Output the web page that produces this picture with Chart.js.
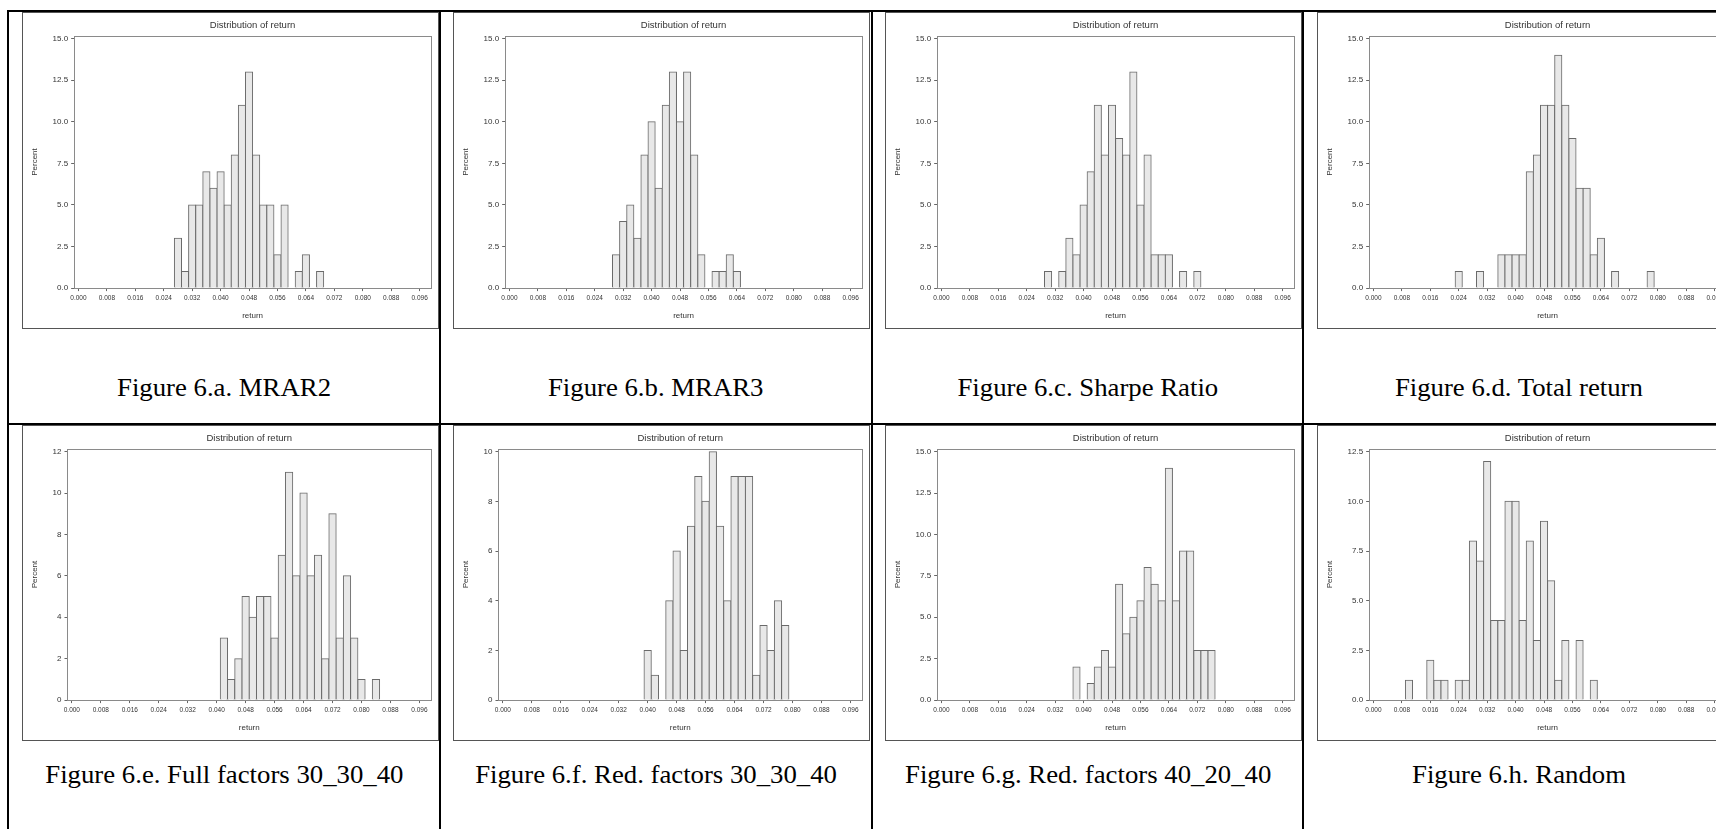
<!DOCTYPE html>
<html>
<head>
<meta charset="utf-8">
<title>Distribution of return</title>
<script src="https://cdn.jsdelivr.net/npm/chart.js@4.4.1/dist/chart.umd.min.js"></script>
<style>
  html, body { margin: 0; padding: 0; background: #fff; }
  body { width: 1716px; height: 829px; position: relative; overflow: hidden; }
  .rule { position: absolute; background: #000; }
  .frame { position: absolute; box-sizing: border-box; border: 1px solid #555; background: #fff; }
  .frame canvas { display: block; }
  .caption {
    position: absolute; width: 430px; height: 30px; line-height: 30px; text-align: center;
    font-family: "Liberation Serif", "Times New Roman", serif; font-size: 25px; color: #000;
  }
  .caption span { display: inline-block; transform: scaleX(1.07); white-space: nowrap; }
</style>
</head>
<body>

<!-- table rules -->
<div class="rule" style="left:7px; top:10px; width:1709px; height:2px"></div>
<div class="rule" style="left:7px; top:423px; width:1709px; height:2px"></div>
<div class="rule" style="left:7px; top:10px; width:2px; height:819px"></div>
<div class="rule" style="left:439px; top:10px; width:2px; height:819px"></div>
<div class="rule" style="left:871px; top:10px; width:2px; height:819px"></div>
<div class="rule" style="left:1302px; top:10px; width:2px; height:819px"></div>

<!-- row 1 -->
<div class="frame" style="left:22px; top:12px; width:417px; height:317px"><canvas id="chart-a" width="415" height="315"></canvas></div>
<div class="frame" style="left:453px; top:12px; width:417px; height:317px"><canvas id="chart-b" width="415" height="315"></canvas></div>
<div class="frame" style="left:885px; top:12px; width:417px; height:317px"><canvas id="chart-c" width="415" height="315"></canvas></div>
<div class="frame" style="left:1317px; top:12px; width:417px; height:317px"><canvas id="chart-d" width="415" height="315"></canvas></div>

<div class="caption" style="left:9px; top:373px"><span>Figure 6.a. MRAR2</span></div>
<div class="caption" style="left:441px; top:373px"><span>Figure 6.b. MRAR3</span></div>
<div class="caption" style="left:873px; top:373px"><span>Figure 6.c. Sharpe Ratio</span></div>
<div class="caption" style="left:1304px; top:373px"><span>Figure 6.d. Total return</span></div>

<!-- row 2 -->
<div class="frame" style="left:22px; top:425px; width:417px; height:316px"><canvas id="chart-e" width="415" height="314"></canvas></div>
<div class="frame" style="left:453px; top:425px; width:417px; height:316px"><canvas id="chart-f" width="415" height="314"></canvas></div>
<div class="frame" style="left:885px; top:425px; width:417px; height:316px"><canvas id="chart-g" width="415" height="314"></canvas></div>
<div class="frame" style="left:1317px; top:425px; width:417px; height:316px"><canvas id="chart-h" width="415" height="314"></canvas></div>

<div class="caption" style="left:9px; top:760px"><span>Figure 6.e. Full factors 30_30_40</span></div>
<div class="caption" style="left:441px; top:760px"><span>Figure 6.f. Red. factors 30_30_40</span></div>
<div class="caption" style="left:873px; top:760px"><span>Figure 6.g. Red. factors 40_20_40</span></div>
<div class="caption" style="left:1304px; top:760px"><span>Figure 6.h. Random</span></div>

<script>
// bin midpoints of return (width 0.002)
const returnBins = [
  0.010, 0.012, 0.014, 0.016, 0.018, 0.020, 0.022, 0.024, 0.026, 0.028,
  0.030, 0.032, 0.034, 0.036, 0.038, 0.040, 0.042, 0.044, 0.046, 0.048,
  0.050, 0.052, 0.054, 0.056, 0.058, 0.060, 0.062, 0.064, 0.066, 0.068,
  0.070, 0.072, 0.074, 0.076, 0.078, 0.080, 0.082, 0.084
];
const returnTicks = [0, 0.008, 0.016, 0.024, 0.032, 0.040, 0.048, 0.056, 0.064, 0.072, 0.080, 0.088, 0.096];

// percent of portfolios in each bin
const pctMRAR2 = [0,0,0,0,0,0,0,0,0, 3,1,5,5,7,6,7,5,8,11,13,8,5,5,2,5,0,1,2,0,1, 0,0,0,0,0,0,0,0];
const pctMRAR3 = [0,0,0,0,0,0,0,0,0,0, 2,4,5,3,8,10,6,11,13,10,13,8,2,0,1,1,2,1, 0,0,0,0,0,0,0,0,0,0];
const pctSharpe = [0,0,0,0,0,0,0,0,0,0, 1,0,1,3,2,5,7,11,8,11,9,8,13,5,8,2,2,2,0,1,0,1, 0,0,0,0,0,0];
const pctTotal = [0,0,0,0,0,0,0, 1,0,0,1,0,0,2,2,2,2,7,8,11,11,14,11,9,6,6,2,3,0,1,0,0,0,0,1, 0,0,0];
const pctFull303040 = [0,0,0,0,0,0,0,0,0,0,0,0,0,0,0,0, 3,1,2,5,4,5,5,3,7,11,6,10,6,7,2,9,3,6,3,1,0,1];
const pctRed303040 = [0,0,0,0,0,0,0,0,0,0,0,0,0,0,0, 2,1,0,4,6,2,7,9,8,10,7,4,9,9,9,1,3,2,4,3, 0,0,0];
const pctRed402040 = [0,0,0,0,0,0,0,0,0,0,0,0,0,0, 2,0,1,2,3,2,7,4,5,6,8,7,6,14,6,9,9,3,3,3, 0,0,0,0];
const pctRandom = [1,0,0,2,1,1,0,1,1,8,7,12,4,4,10,10,4,8,3,9,6,1,3,0,3,0,1, 0,0,0,0,0,0,0,0,0,0,0];

const sasFont = '"Liberation Sans", Arial, sans-serif';
const textColor = '#333';

// grey box round the plot area
const plotFrame = {
  id: 'plotFrame',
  afterDraw(chart) {
    const a = chart.chartArea;
    const ctx = chart.ctx;
    ctx.save();
    ctx.strokeStyle = '#8a8a8a';
    ctx.lineWidth = 1;
    ctx.strokeRect(Math.round(a.left) + 0.5, Math.round(a.top) + 0.5,
      Math.round(a.right - a.left), Math.round(a.bottom - a.top));
    ctx.restore();
  }
};

function histogram(id, counts, yTop, yStep) {
  const points = returnBins.map((r, i) => ({ x: r, y: counts[i] === 0 ? null : counts[i] }));
  return new Chart(document.getElementById(id), {
    type: 'bar',
    data: {
      datasets: [{
        data: points,
        backgroundColor: '#e8e8e8',
        borderColor: '#6a6a6a',
        borderWidth: 1,
        inflateAmount: 0.5,
        barPercentage: 1,
        categoryPercentage: 1
      }]
    },
    options: {
      responsive: false,
      animation: false,
      devicePixelRatio: 1,
      layout: { padding: { left: 5, right: 7, top: 0, bottom: 7 } },
      plugins: {
        legend: { display: false },
        tooltip: { enabled: false },
        title: {
          display: true,
          text: 'Distribution of return',
          fullSize: false,
          color: textColor,
          font: { family: sasFont, size: 9.5, weight: 'normal' },
          padding: { top: 7, bottom: 4.5 }
        }
      },
      scales: {
        x: {
          type: 'linear',
          min: -0.0012,
          max: 0.0992,
          offset: false,
          afterBuildTicks: scale => {
            scale.ticks = returnTicks.map(v => ({ value: v }));
          },
          ticks: {
            autoSkip: false,
            maxRotation: 0,
            padding: 3,
            color: textColor,
            font: { family: sasFont, size: 6.5 },
            callback: v => v.toFixed(3)
          },
          grid: { drawOnChartArea: false, offset: false, tickLength: 3, color: '#666' },
          border: { display: false },
          title: {
            display: true,
            text: 'return',
            color: textColor,
            font: { family: sasFont, size: 8 },
            padding: { top: 6.5, bottom: 0 }
          }
        },
        y: {
          min: 0,
          max: yTop * 1.011,
          ticks: {
            stepSize: yStep,
            includeBounds: false,
            padding: 3,
            color: textColor,
            font: { family: sasFont, size: 8 },
            callback: v => (yStep % 1 ? v.toFixed(1) : v.toFixed(0))
          },
          grid: { drawOnChartArea: false, tickLength: 3, color: '#666' },
          border: { display: false },
          title: {
            display: true,
            text: 'Percent',
            color: textColor,
            font: { family: sasFont, size: 8 },
            padding: { top: 2, bottom: 10 }
          }
        }
      }
    },
    plugins: [plotFrame]
  });
}

histogram('chart-a', pctMRAR2, 15, 2.5);
histogram('chart-b', pctMRAR3, 15, 2.5);
histogram('chart-c', pctSharpe, 15, 2.5);
histogram('chart-d', pctTotal, 15, 2.5);
histogram('chart-e', pctFull303040, 12, 2);
histogram('chart-f', pctRed303040, 10, 2);
histogram('chart-g', pctRed402040, 15, 2.5);
histogram('chart-h', pctRandom, 12.5, 2.5);
</script>
</body>
</html>
